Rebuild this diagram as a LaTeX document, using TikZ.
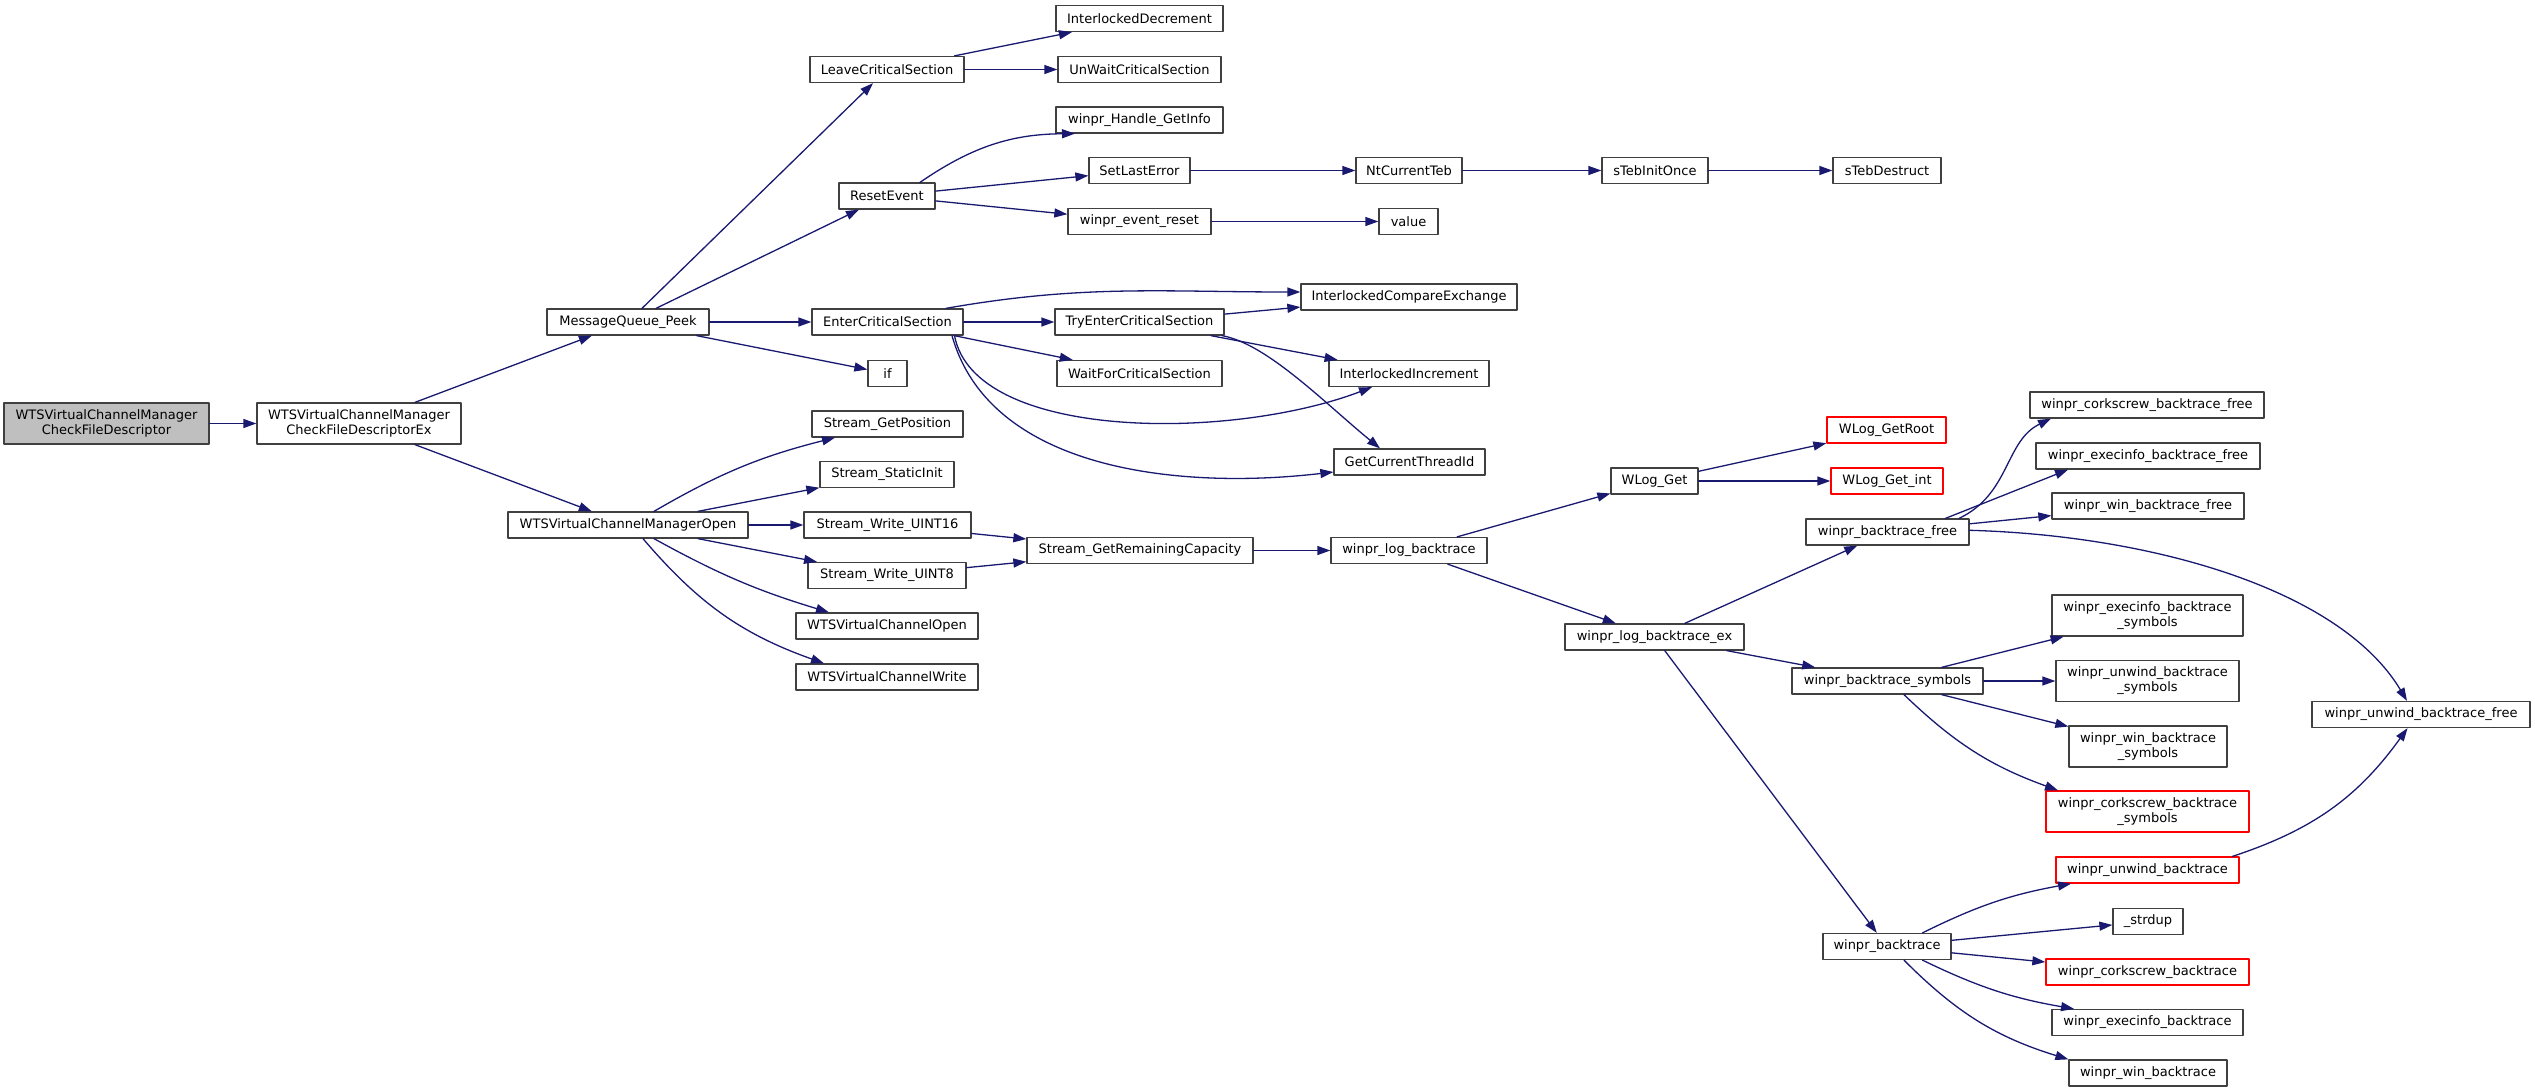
\documentclass[tikz,border=0pt]{standalone}
\usepackage{fontspec}
\setmainfont{DejaVu Sans}
\usetikzlibrary{arrows.meta}
\definecolor{edgeblue}{HTML}{191970}
\definecolor{boxgrey}{HTML}{404040}
\definecolor{rootfill}{HTML}{BFBFBF}
\definecolor{boxred}{HTML}{FF0000}
\tikzset{
  func/.style={draw=boxgrey, fill=white, line width=1.3pt, inner sep=0pt, minimum height=26pt, align=center, font=\fontsize{13}{15}\selectfont},
  functwo/.style={func, minimum height=41pt},
  funcroot/.style={functwo, fill=rootfill},
  funcred/.style={func, draw=boxred},
  functwored/.style={functwo, draw=boxred},
  call/.style={->, draw=edgeblue, line width=1.3pt}
}
\begin{document}
\begin{tikzpicture}[line cap=round,line join=round,>={Triangle[length=13pt,width=9pt]},x=1pt,y=-1pt]
        \useasboundingbox (0,0) rectangle (2535,1092);
        % callers
        \node[funcroot, minimum width=205pt] (root) at (106.5,423.5) {WTSVirtualChannelManager\\CheckFileDescriptor};
        \node[functwo, minimum width=204pt] (ex) at (359,423.5) {WTSVirtualChannelManager\\CheckFileDescriptorEx};
        \node[func, minimum width=162pt] (mqpeek) at (628,322) {MessageQueue\_Peek};
        \node[func, minimum width=240pt] (open) at (628,525) {WTSVirtualChannelManagerOpen};
        % second level
        \node[func, minimum width=154pt] (leave) at (887,69.5) {LeaveCriticalSection};
        \node[func, minimum width=96pt] (reset) at (887,196) {ResetEvent};
        \node[func, minimum width=151pt] (enter) at (887.5,322) {EnterCriticalSection};
        \node[func, minimum width=39pt] (ifnode) at (887.5,373.5) {if};
        \node[func, minimum width=151pt] (getpos) at (887.5,424) {Stream\_GetPosition};
        \node[func, minimum width=134pt] (staticinit) at (887,474.5) {Stream\_StaticInit};
        \node[func, minimum width=167pt] (wu16) at (887.5,525) {Stream\_Write\_UINT16};
        \node[func, minimum width=158pt] (wu8) at (887,575.5) {Stream\_Write\_UINT8};
        \node[func, minimum width=182pt] (vcopen) at (887,626) {WTSVirtualChannelOpen};
        \node[func, minimum width=182pt] (vcwrite) at (887,677) {WTSVirtualChannelWrite};
        % third level
        \node[func, minimum width=167pt] (idec) at (1139.5,18.5) {InterlockedDecrement};
        \node[func, minimum width=163pt] (unwait) at (1139.5,69.5) {UnWaitCriticalSection};
        \node[func, minimum width=167pt] (hgetinfo) at (1139.5,120) {winpr\_Handle\_GetInfo};
        \node[func, minimum width=101pt] (setlast) at (1139.5,170.5) {SetLastError};
        \node[func, minimum width=143pt] (evreset) at (1139.5,221.5) {winpr\_event\_reset};
        \node[func, minimum width=169pt] (tryenter) at (1139.5,322) {TryEnterCriticalSection};
        \node[func, minimum width=165pt] (waitfor) at (1139.5,373.5) {WaitForCriticalSection};
        \node[func, minimum width=226pt] (remcap) at (1140,550.5) {Stream\_GetRemainingCapacity};
        % fourth level
        \node[func, minimum width=106pt] (ntteb) at (1409,170.5) {NtCurrentTeb};
        \node[func, minimum width=59pt] (value) at (1408.5,221.5) {value};
        \node[func, minimum width=216pt] (cmpxchg) at (1409,297) {InterlockedCompareExchange};
        \node[func, minimum width=160pt] (incr) at (1409,373.5) {InterlockedIncrement};
        \node[func, minimum width=151pt] (threadid) at (1409.5,462) {GetCurrentThreadId};
        \node[func, minimum width=156pt] (logbt) at (1409,550.5) {winpr\_log\_backtrace};
        % fifth level
        \node[func, minimum width=106pt] (tebinit) at (1655,170.5) {sTebInitOnce};
        \node[func, minimum width=87pt] (wlogget) at (1654.5,481) {WLog\_Get};
        \node[func, minimum width=179pt] (logbtex) at (1654.5,637) {winpr\_log\_backtrace\_ex};
        % sixth level
        \node[func, minimum width=108pt] (tebdestr) at (1887,170.5) {sTebDestruct};
        \node[funcred, minimum width=119pt] (getroot) at (1886.5,430) {WLog\_GetRoot};
        \node[funcred, minimum width=112pt] (getint) at (1887,481) {WLog\_Get\_int};
        \node[func, minimum width=163pt] (btfree) at (1887.5,532) {winpr\_backtrace\_free};
        \node[func, minimum width=191pt] (btsym) at (1887.5,681) {winpr\_backtrace\_symbols};
        \node[func, minimum width=128pt] (bt) at (1887,946.5) {winpr\_backtrace};
        % seventh level
        \node[func, minimum width=234pt] (csfree) at (2147,405) {winpr\_corkscrew\_backtrace\_free};
        \node[func, minimum width=224pt] (eifree) at (2148,456) {winpr\_execinfo\_backtrace\_free};
        \node[func, minimum width=192pt] (winfree) at (2148,506) {winpr\_win\_backtrace\_free};
        \node[functwo, minimum width=191pt] (eisym) at (2147.5,615.5) {winpr\_execinfo\_backtrace\\\_symbols};
        \node[functwo, minimum width=183pt] (uwsym) at (2147.5,681) {winpr\_unwind\_backtrace\\\_symbols};
        \node[functwo, minimum width=158pt] (winsym) at (2148,746.5) {winpr\_win\_backtrace\\\_symbols};
        \node[functwored, minimum width=203pt] (cssym) at (2147.5,811.5) {winpr\_corkscrew\_backtrace\\\_symbols};
        \node[funcred, minimum width=183pt] (uwbt) at (2147.5,870) {winpr\_unwind\_backtrace};
        \node[func, minimum width=70pt] (strdup) at (2148,921.5) {\_strdup};
        \node[funcred, minimum width=203pt] (csbt) at (2147.5,972) {winpr\_corkscrew\_backtrace};
        \node[func, minimum width=191pt] (eibt) at (2147.5,1022.5) {winpr\_execinfo\_backtrace};
        \node[func, minimum width=158pt] (winbt) at (2148,1073) {winpr\_win\_backtrace};
        % last level
        \node[func, minimum width=218pt] (uwfree) at (2421,714.5) {winpr\_unwind\_backtrace\_free};

        % calls
        \draw[call] (root) -- (ex);
        \draw[call] (ex) -- (mqpeek);
        \draw[call] (ex) -- (open);
        \draw[call] (mqpeek) -- (leave);
        \draw[call] (mqpeek) -- (reset);
        \draw[call] (mqpeek) -- (enter);
        \draw[call] (mqpeek) -- (ifnode);
        \draw[call] (leave) -- (idec);
        \draw[call] (leave) -- (unwait);
        \draw[call] ([xshift=33pt]reset.north) to[bend left=17] ([xshift=-64.5pt]hgetinfo.south);
        \draw[call] (reset) -- (setlast);
        \draw[call] (reset) -- (evreset);
        \draw[call] (setlast) -- (ntteb);
        \draw[call] (ntteb) -- (tebinit);
        \draw[call] (tebinit) -- (tebdestr);
        \draw[call] (evreset) -- (value);
        \draw[call] ([xshift=58.5pt]enter.north) to[out=10,in=180] ([yshift=5pt]cmpxchg.west);
        \draw[call] (enter) -- (tryenter);
        \draw[call] (enter) -- (waitfor);
        \draw[call] ([xshift=67pt]enter.south) .. controls +(20,105) and +(-142,54) .. ([xshift=-37pt]incr.south);
        \draw[call] ([xshift=64.5pt]enter.south) .. controls +(38,135) and +(-154,18) .. ([yshift=-10pt]threadid.west);
        \draw[call] (tryenter) -- (cmpxchg);
        \draw[call] (tryenter) -- (incr);
        \draw[call] ([xshift=82.5pt]tryenter.south) .. controls +(45,8) and +(-55,-45) .. ([xshift=-29.5pt]threadid.north);
        \draw[call] ([xshift=26pt]open.north) to[bend left=8] ([xshift=-52.5pt]getpos.south);
        \draw[call] (open) -- (staticinit);
        \draw[call] (open) -- (wu16);
        \draw[call] (open) -- (wu8);
        \draw[call] ([xshift=26pt]open.south) to[bend right=6] ([xshift=-58pt]vcopen.north);
        \draw[call] ([xshift=15pt]open.south) to[bend right=15] ([xshift=-63pt]vcwrite.north);
        \draw[call] (wu16) -- (remcap);
        \draw[call] (wu8) -- (remcap);
        \draw[call] (remcap) -- (logbt);
        \draw[call] (logbt) -- (wlogget);
        \draw[call] (logbt) -- (logbtex);
        \draw[call] (wlogget) -- (getroot);
        \draw[call] (wlogget) -- (getint);
        \draw[call] (logbtex) -- (btfree);
        \draw[call] (logbtex) -- (btsym);
        \draw[call] (logbtex) -- (bt);
        \draw[call] ([xshift=71.5pt]btfree.north) .. controls +(51,-24) and +(-46,22) .. ([xshift=-96pt]csfree.south);
        \draw[call] ([xshift=58pt]btfree.north) -- ([xshift=-80pt]eifree.south);
        \draw[call] (btfree) -- (winfree);
        \draw[call] ([yshift=1.7pt]btfree.east) .. controls +(181,5) and +(-67,-112) .. ([xshift=-14pt]uwfree.north);
        \draw[call] (btsym) -- (eisym);
        \draw[call] (btsym) -- (uwsym);
        \draw[call] (btsym) -- (winsym);
        \draw[call] ([xshift=16.5pt]btsym.south) to[bend right=12] ([xshift=-89.5pt]cssym.north);
        \draw[call] ([xshift=85pt]uwbt.north) to[bend right=18] ([xshift=-13.5pt]uwfree.south);
        \draw[call] ([xshift=35.5pt]bt.north) to[bend left=8] ([xshift=-76.5pt]uwbt.south);
        \draw[call] (bt) -- (strdup);
        \draw[call] (bt) -- (csbt);
        \draw[call] ([xshift=35.5pt]bt.south) to[bend right=8] ([xshift=-73.5pt]eibt.north);
        \draw[call] ([xshift=17pt]bt.south) to[bend right=14] (winbt.north west);
    \end{tikzpicture}
\end{document}
